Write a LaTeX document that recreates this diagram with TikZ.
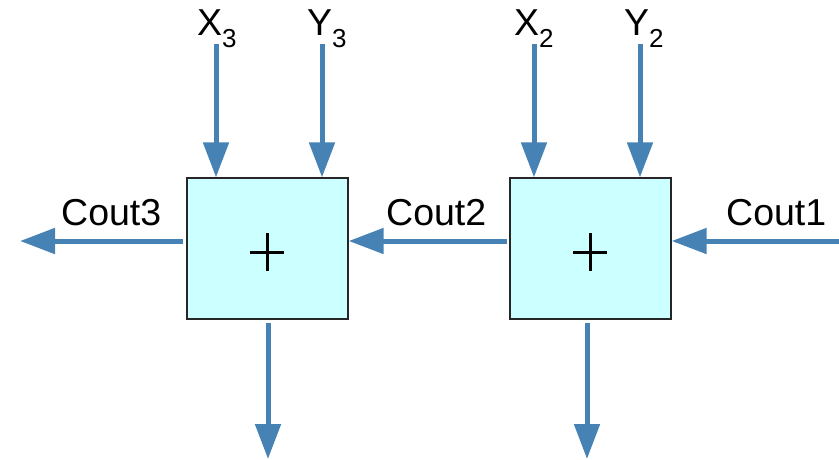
\documentclass[tikz,border=0pt]{standalone}
\usepackage{fontspec}
\setmainfont{Liberation Sans}
\usetikzlibrary{arrows.meta}
\definecolor{wire}{RGB}{70,130,180}
\definecolor{boxfill}{RGB}{204,255,255}
\tikzset{
  wirearrow/.style={draw=wire, line width=5pt, -{Triangle[length=35pt,width=25pt]}, fill=wire},
  adder/.style={draw=black!85, line width=1.3pt, fill=boxfill, minimum width=161pt, minimum height=141pt, inner sep=0pt},
  lbl/.style={font=\fontsize{37.5}{37.5}\selectfont, inner sep=0pt, anchor=base west},
  plusline/.style={draw=black, line width=3pt}
}
\newcommand{\subs}[1]{\raisebox{-12pt}{\fontsize{26}{26}\selectfont #1}}
\begin{document}
\begin{tikzpicture}[x=1pt,y=-1pt]
\useasboundingbox (0,0) rectangle (839,459);
% boxes
\node[adder] (a3) at (267.5,248.5) {};
\node[adder] (a2) at (590.5,248.5) {};
% plus signs
\draw[plusline] (250,252) -- (284,252) (267,233) -- (267,271);
\draw[plusline] (573,252) -- (607,252) (590,233) -- (590,271);
% input labels
\node[lbl] (lx3) at (197,35) {X\subs{3}};
\node[lbl] (ly3) at (307,35) {Y\subs{3}};
\node[lbl] (lx2) at (514,35) {X\subs{2}};
\node[lbl] (ly2) at (624,35) {Y\subs{2}};
% carry labels
\node[lbl] (lc3) at (61,225) {Cout3};
\node[lbl] (lc2) at (386,225) {Cout2};
\node[lbl] (lc1) at (726,225) {Cout1};
% coordinates
\coordinate (tx3) at (216,44);
\coordinate (ty3) at (322,44);
\coordinate (tx2) at (534,44);
\coordinate (ty2) at (640,44);
\coordinate (c3s) at (183,241);
\coordinate (c3e) at (20,241);
\coordinate (c2s) at (507,241);
\coordinate (c1s) at (839,241);
\coordinate (s3s) at (268,323);
\coordinate (s3e) at (268,459);
\coordinate (s2s) at (587,323);
\coordinate (s2e) at (587,459);
% arrows
\draw[wirearrow] (tx3) -- (tx3 |- a3.north);
\draw[wirearrow] (ty3) -- (ty3 |- a3.north);
\draw[wirearrow] (tx2) -- (tx2 |- a2.north);
\draw[wirearrow] (ty2) -- (ty2 |- a2.north);
\draw[wirearrow] (c3s) -- (c3e);
\draw[wirearrow] (c2s) -- (c2s -| a3.east);
\draw[wirearrow] (c1s) -- (c1s -| a2.east);
\draw[wirearrow] (s3s) -- (s3e);
\draw[wirearrow] (s2s) -- (s2e);
\end{tikzpicture}
\end{document}
